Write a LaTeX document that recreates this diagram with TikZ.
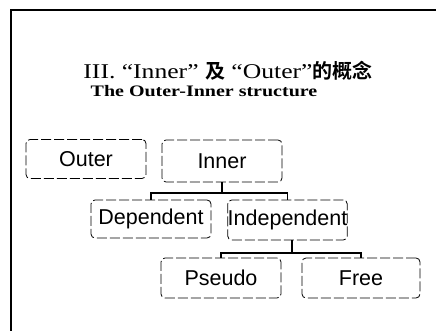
\documentclass[tikz,border=0pt]{standalone}
\usepackage{fontspec}
\setmainfont{Liberation Serif}
\newfontfamily\boxfont{Liberation Sans}
\newfontfamily\titlefont{Liberation Serif}[FakeStretch=1.22]
\newfontfamily\subfont{Liberation Serif}[FakeStretch=1.25]
\newfontfamily\cjk{Noto Sans CJK SC}[BoldFont={* Bold}]
\usetikzlibrary{arrows.meta}

\begin{document}
\begin{tikzpicture}[x=1pt, y=-1pt, thick,
    box/.style = {draw, rounded corners=4pt, dash pattern=on 10pt off 3pt,
      minimum width=120pt, minimum height=39pt, inner sep=1pt,
      font=\boxfont\fontsize{21.5}{23}\selectfont},
    link/.style = {line width=1.1pt}]
    \useasboundingbox (0,0) rectangle (436,331);
    % Frame
    \draw[line width=1.6pt] (11,331) -- (11,10) -- (436,10);

    % Title
    \node[anchor=base] (title) at (228,79)
      {\titlefont\fontsize{21}{23}\selectfont III. “Inner” {\cjk\bfseries\fontsize{20}{23}\selectfont 及} “Outer”{\cjk\bfseries\fontsize{20}{23}\selectfont 的概念}};
    \node[anchor=base] (sub) at (204,97)
      {\subfont\fontsize{16}{18}\selectfont\bfseries The Outer-Inner structure};

    % Nodes
    \node[box] (outer) at (86,159) {Outer};
    \node[box, minimum height=42pt] (inner) at (222,161) {Inner};
    \node[box, minimum height=38pt] (dep) at (151,219) {Dependent};
    \node[box, minimum width=111pt, inner xsep=0pt, minimum height=40pt] (indep) at (287.5,220) {Independent};
    \node[box, minimum height=40pt] (pseudo) at (221,278) {Pseudo};
    \node[box, minimum width=118pt, minimum height=40pt] (free) at (361,278) {Free};

    \coordinate (bar1) at (222,193);
    \coordinate (bar2) at (292,253);
    % Edges
    \draw[link] (inner.south) -- (bar1);
    \draw[link] (dep.north) |- (bar1) -| (indep.north);
    \draw[link] (indep.south -| bar2) -- (bar2);
    \draw[link] (pseudo.north) |- (bar2) -| (free.north);

\end{tikzpicture}
\end{document}
